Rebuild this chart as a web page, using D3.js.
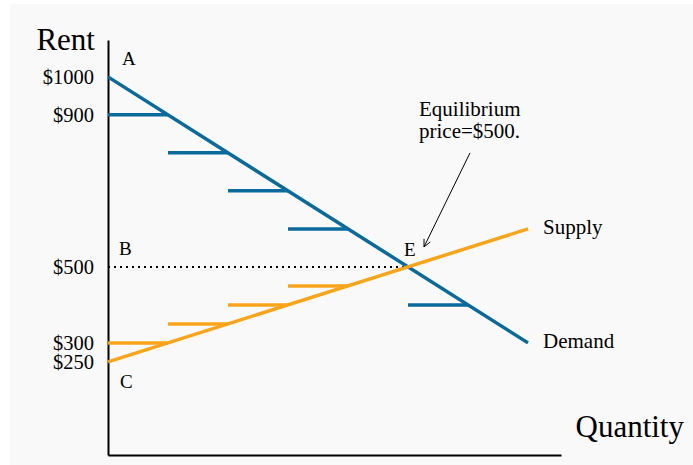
<!DOCTYPE html>
<html>
<head>
<meta charset="utf-8">
<script src="https://cdn.jsdelivr.net/npm/d3@7"></script>
<style>
  html, body { margin: 0; padding: 0; background: #ffffff; }
  svg { display: block; }
  text { font-family: "Liberation Serif", "Times New Roman", serif; fill: #000; }
</style>
</head>
<body>
<script>
// Rent tick labels on the vertical axis
const rentTicks = [1000, 900, 500, 300, 250];

// Demand curve: rent falls $100 per unit of quantity
const demandQ = [0, 7];
const demandP = [1000, 300];

// Supply curve: rent rises $50 per unit of quantity
const supplyQ = [0, 7];
const supplyP = [250, 600];

// Stepped price segments under each curve: [startQ, endQ, price]
const demandSteps = [[0, 1, 900], [1, 2, 800], [2, 3, 700], [3, 4, 600], [5, 6, 400]];
const supplySteps = [[0, 1, 300], [1, 2, 350], [2, 3, 400], [3, 4, 450]];

// Equilibrium
const eqQ = 5;
const eqP = 500;

// Point labels: [name, quantity, price]
const pointLabels = [["A", 0, 1000], ["B", 0, 500], ["C", 0, 250], ["E", 5, 500]];

const W = 693, H = 465;
const blue = "#0a6a9b";
const orange = "#f9a51b";

const svg = d3.select("body").append("svg")
  .attr("width", W).attr("height", H);

svg.append("rect")
  .attr("x", 10).attr("y", 4)
  .attr("width", W - 10).attr("height", H - 4)
  .attr("fill", "#f9f9f9");

const x = d3.scaleLinear().domain([0, 7.55]).range([108, 561]);
const y = d3.scaleLinear().domain([5, 1097]).range([455, 40]);

// Axes
const yAxis = svg.append("g")
  .attr("transform", `translate(${x(0)},0)`)
  .call(d3.axisLeft(y).tickValues(rentTicks).tickSize(0).tickPadding(14)
    .tickFormat(d => "$" + d));
yAxis.select(".domain").attr("stroke", "#000").attr("stroke-width", 2);
yAxis.selectAll("text")
  .attr("font-family", "Liberation Serif, serif")
  .attr("font-size", 20.5)
  .attr("fill", "#000");

const xAxis = svg.append("g")
  .attr("transform", `translate(0,${y(5)})`)
  .call(d3.axisBottom(x).tickValues([]).tickSize(0).tickSizeOuter(0));
xAxis.select(".domain").attr("stroke", "#000").attr("stroke-width", 2);

// Axis titles
svg.append("text")
  .attr("x", x(0) - 13).attr("y", y(1097) + 10)
  .attr("text-anchor", "end")
  .attr("font-size", 31)
  .text("Rent");

svg.append("text")
  .attr("x", 684).attr("y", y(5) - 18)
  .attr("text-anchor", "end")
  .attr("font-size", 31)
  .text("Quantity");

// Dotted line at the equilibrium price
svg.append("line")
  .attr("x1", x(0)).attr("x2", x(eqQ))
  .attr("y1", y(eqP)).attr("y2", y(eqP))
  .attr("stroke", "#000")
  .attr("stroke-width", 2)
  .attr("stroke-dasharray", "2,4");

// Step segments
svg.selectAll("line.dstep").data(demandSteps).join("line")
  .attr("class", "dstep")
  .attr("x1", d => x(d[0])).attr("x2", d => x(d[1]))
  .attr("y1", d => y(d[2])).attr("y2", d => y(d[2]))
  .attr("stroke", blue).attr("stroke-width", 3.5);

svg.selectAll("line.sstep").data(supplySteps).join("line")
  .attr("class", "sstep")
  .attr("x1", d => x(d[0])).attr("x2", d => x(d[1]))
  .attr("y1", d => y(d[2])).attr("y2", d => y(d[2]))
  .attr("stroke", orange).attr("stroke-width", 3.5);

// Curves
const line = d3.line().x(d => x(d[0])).y(d => y(d[1]));
svg.append("path")
  .attr("d", line(d3.zip(demandQ, demandP)))
  .attr("fill", "none").attr("stroke", blue).attr("stroke-width", 3.5);
svg.append("path")
  .attr("d", line(d3.zip(supplyQ, supplyP)))
  .attr("fill", "none").attr("stroke", orange).attr("stroke-width", 3.5);

// Curve names
svg.append("text")
  .attr("x", x(supplyQ[1]) + 15).attr("y", y(supplyP[1]) + 5)
  .attr("font-size", 21).text("Supply");
svg.append("text")
  .attr("x", x(demandQ[1]) + 15).attr("y", y(demandP[1]) + 5)
  .attr("font-size", 21).text("Demand");

// Point labels
const labelOffsets = { A: [14, -12], B: [11, -12], C: [12, 26], E: [-4, -11] };
svg.selectAll("text.pt").data(pointLabels).join("text")
  .attr("class", "pt")
  .attr("x", d => x(d[1]) + labelOffsets[d[0]][0])
  .attr("y", d => y(d[2]) + labelOffsets[d[0]][1])
  .attr("font-size", 19)
  .text(d => d[0]);

// Annotation
const note = svg.append("text")
  .attr("x", x(eqQ) + 11).attr("y", y(eqP) - 151)
  .attr("font-size", 21);
note.append("tspan").attr("x", x(eqQ) + 11).text("Equilibrium");
note.append("tspan").attr("x", x(eqQ) + 11).attr("dy", 22).text("price=$" + eqP + ".");

const ax1 = x(eqQ) + 62, ay1 = y(eqP) - 114;
const ax2 = x(eqQ) + 16, ay2 = y(eqP) - 20;
svg.append("line")
  .attr("x1", ax1).attr("y1", ay1).attr("x2", ax2).attr("y2", ay2)
  .attr("stroke", "#000").attr("stroke-width", 1);
// Open arrowhead
const ang = Math.atan2(ay2 - ay1, ax2 - ax1);
const hl = 8, spread = 0.45;
svg.append("path")
  .attr("d", `M${ax2 - hl * Math.cos(ang - spread)},${ay2 - hl * Math.sin(ang - spread)}L${ax2},${ay2}L${ax2 - hl * Math.cos(ang + spread)},${ay2 - hl * Math.sin(ang + spread)}`)
  .attr("fill", "none").attr("stroke", "#000").attr("stroke-width", 1);
</script>
</body>
</html>
